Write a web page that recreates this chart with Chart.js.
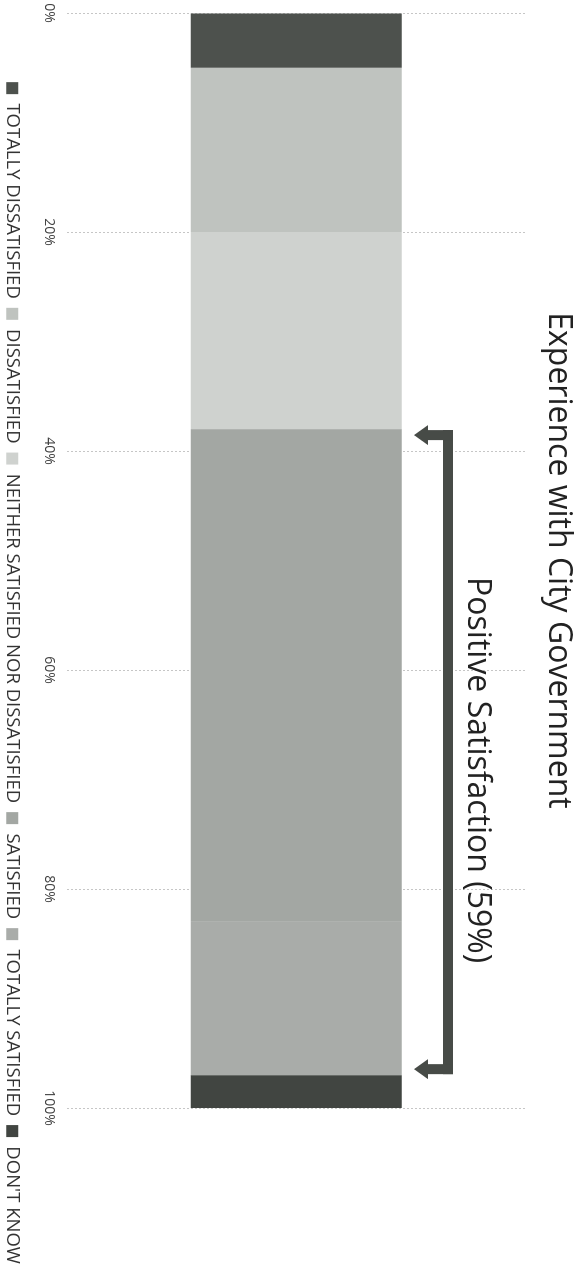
<!DOCTYPE html>
<html>
<head>
<meta charset="utf-8">
<script src="https://cdn.jsdelivr.net/npm/chart.js@4.4.1/dist/chart.umd.min.js"></script>
<style>
  html, body { margin: 0; padding: 0; background: #fff; overflow: hidden; }
  body { width: 574px; height: 1279px; position: relative; }
  /* the chart is laid out sideways, then turned a quarter clockwise */
  .turned {
    position: absolute; left: 0; top: 0;
    width: 1346px; height: 581px;
    transform-origin: 0 0;
    transform: translate(574px, 0) rotate(90deg);
  }
</style>
</head>
<body>
<div class="turned"><canvas id="chart"></canvas></div>
<script>
const categories = ['TOTALLY DISSATISFIED', 'DISSATISFIED', 'NEITHER SATISFIED NOR DISSATISFIED', 'SATISFIED', 'TOTALLY SATISFIED', "DON'T KNOW"];
const shares = [5, 15, 18, 45, 14, 3];
const tickLabels = ['0%', '20%', '40%', '60%', '80%', '100%'];
const positiveGroups = ['SATISFIED', 'TOTALLY SATISFIED'];

const colors = ['#4d514d', '#bfc3bf', '#cfd2cf', '#a3a7a3', '#a9aca9', '#414541'];

const bracket = {
    id: 'bracket',
    afterDatasetsDraw(chart) {
        const x = chart.scales.x;
        const ctx = chart.ctx;
        const first = categories.indexOf(positiveGroups[0]);
        const start = shares.slice(0, first).reduce((a, b) => a + b, 0);
        const total = positiveGroups.reduce((a, g) => a + shares[categories.indexOf(g)], 0);
        const x0 = x.getPixelForValue(start) + 6;
        const x1 = x.getPixelForValue(start + total) - 6;
        const lineY = 121;
        const tipY = 160;

        ctx.save();
        ctx.fillStyle = '#474b47';
        ctx.fillRect(x0 - 5, lineY, x1 - x0 + 10, 10);
        [x0, x1].forEach(px => {
            ctx.fillRect(px - 5, lineY, 10, 26);
            ctx.beginPath();
            ctx.moveTo(px - 10, lineY + 25);
            ctx.lineTo(px + 10, lineY + 25);
            ctx.lineTo(px, tipY);
            ctx.closePath();
            ctx.fill();
        });
        ctx.font = '32px "Open Sans"';
        ctx.fillStyle = '#222';
        ctx.textAlign = 'center';
        ctx.textBaseline = 'alphabetic';
        ctx.fillText(`Positive Satisfaction (${total}%)`, (x0 + x1) / 2 + 18, 106);
        ctx.restore();
    }
};

new Chart(document.getElementById('chart'), {
    type: 'bar',
    data: {
        labels: [''],
        datasets: categories.map((name, i) => ({
            label: name,
            data: [shares[i]],
            backgroundColor: colors[i],
            borderWidth: 0,
            categoryPercentage: 0.461,
            barPercentage: 1
        }))
    },
    options: {
        indexAxis: 'y',
        responsive: true,
        maintainAspectRatio: false,
        animation: false,
        layout: { padding: { left: 0, right: 0, top: 0, bottom: 0 } },
        scales: {
            x: {
                stacked: true,
                min: 0,
                max: 100,
                ticks: {
                    stepSize: 20,
                    padding: 10,
                    color: '#444',
                    font: { family: 'Open Sans', size: 14 },
                    callback: (v) => tickLabels[v / 20]
                },
                grid: { color: '#c6c6c6', drawTicks: false, lineWidth: 1 },
                border: { display: false, dash: [2, 2] },
                afterFit(scale) { scale.paddingLeft = 13; }
            },
            y: {
                stacked: true,
                position: 'right',
                ticks: { display: false },
                grid: { display: false },
                border: { display: false },
                afterFit(scale) { scale.width = 238; }
            }
        },
        plugins: {
            title: {
                display: true,
                text: 'Experience with City Government',
                fullSize: false,
                color: '#222',
                font: { family: 'Open Sans', size: 32, weight: 'normal', lineHeight: 1 },
                padding: { top: 0, bottom: 17 }
            },
            legend: {
                position: 'bottom',
                labels: {
                    boxWidth: 12,
                    boxHeight: 12,
                    padding: 9,
                    color: '#333',
                    font: { family: 'Open Sans', size: 18.5, lineHeight: 1 }
                }
            },
            tooltip: { enabled: false }
        }
    },
    plugins: [bracket]
});
</script>
</body>
</html>
